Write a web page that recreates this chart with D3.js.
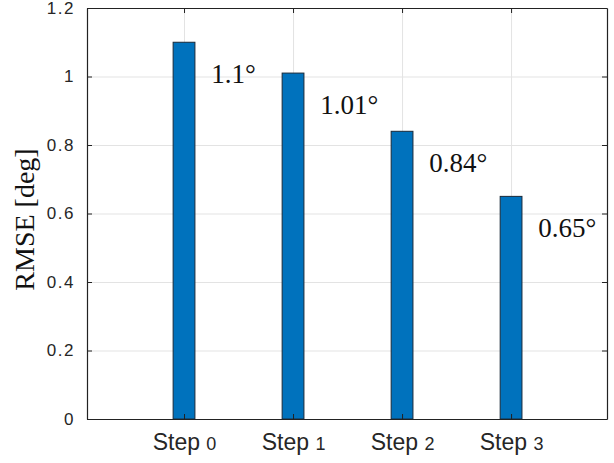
<!DOCTYPE html>
<html>
<head>
<meta charset="utf-8">
<script src="https://cdn.jsdelivr.net/npm/d3@7"></script>
<style>
  body { margin: 0; background: #fff; }
  #canvas { width: 614px; height: 463px; }
</style>
</head>
<body>
<div id="canvas" class="canvas"></div>
<script>
// data
var steps = ['Step', 'Step', 'Step', 'Step'];
var stepNums = ['0', '1', '2', '3'];
var rmse = [1.1, 1.01, 0.84, 0.65];
var rmseLabels = ['1.1°', '1.01°', '0.84°', '0.65°'];
var yTicks = [0, 0.2, 0.4, 0.6, 0.8, 1, 1.2];

// margin convention
var m = {t:8, r:7, b:44, l:87};
var outerWidth = 614, outerHeight = 463;
var w = outerWidth - m.l - m.r,
    h = outerHeight - m.t - m.b;

var svg = d3.select('.canvas')
    .append('svg')
    .attr('width', outerWidth)
    .attr('height', outerHeight);

var plot = svg.append('g')
    .attr('transform', 'translate(' + m.l + ',' + m.t + ')');

var idx = rmse.map(function(d, i){ return i; });

var scaleX = d3.scaleLinear()
    .domain([-0.89, 3.88])
    .range([0, w]);

var scaleY = d3.scaleLinear()
    .domain([0, 1.2])
    .range([h, 0]);

// grid
plot.append('g').attr('class', 'grid')
    .call(d3.axisLeft(scaleY).tickValues(yTicks).tickSize(-w).tickFormat(''))
    .call(function(g){
        g.select('.domain').remove();
        g.selectAll('line').attr('stroke', '#e3e3e3').attr('stroke-width', 1);
    });
plot.append('g').attr('class', 'grid')
    .attr('transform', 'translate(0,' + h + ')')
    .call(d3.axisBottom(scaleX).tickValues(idx).tickSize(-h).tickFormat(''))
    .call(function(g){
        g.select('.domain').remove();
        g.selectAll('line').attr('stroke', '#e3e3e3').attr('stroke-width', 1);
    });

// bars
var barW = scaleX(0.1) - scaleX(-0.1);
plot.selectAll('.bar')
    .data(rmse)
    .enter()
    .append('rect')
    .attr('class', 'bar')
    .attr('x', function(d, i){ return scaleX(i) - barW / 2; })
    .attr('y', function(d){ return scaleY(d); })
    .attr('width', barW)
    .attr('height', function(d){ return h - scaleY(d); })
    .attr('fill', '#0072BD')
    .attr('stroke', '#1a2a3a')
    .attr('stroke-width', 1);

// value annotations
plot.selectAll('.lbl')
    .data(rmse)
    .enter()
    .append('text')
    .attr('class', 'lbl')
    .attr('x', function(d, i){ return scaleX(i + 0.25); })
    .attr('y', function(d){ return scaleY(d - 0.12); })
    .attr('font-family', '"Liberation Serif", "DejaVu Serif", serif')
    .attr('font-size', 27)
    .attr('fill', '#111')
    .text(function(d, i){ return rmseLabels[i]; });

// axes with inward ticks, box on
function styleAxis(g){
    g.select('.domain').attr('stroke', '#222').attr('stroke-width', 1.2);
    g.selectAll('.tick line').attr('stroke', '#222');
}

var axisY = d3.axisLeft(scaleY)
    .tickValues(yTicks)
    .tickSizeInner(-5)
    .tickSizeOuter(0)
    .tickPadding(12)
    .tickFormat(function(d){ return d3.format('')(+d.toFixed(1)); });

plot.append('g').attr('class', 'axis axis-y')
    .call(axisY)
    .call(styleAxis)
    .selectAll('text')
    .attr('font-family', '"Liberation Sans", Arial, sans-serif')
    .attr('font-size', 17)
    .attr('letter-spacing', 1.5)
    .attr('fill', '#262626');

plot.append('g').attr('class', 'axis axis-y2')
    .attr('transform', 'translate(' + w + ',0)')
    .call(d3.axisRight(scaleY).tickValues(yTicks).tickSizeInner(-5).tickSizeOuter(0).tickFormat(''))
    .call(styleAxis);

var axisX = d3.axisBottom(scaleX)
    .tickValues(idx)
    .tickSizeInner(-5)
    .tickSizeOuter(0)
    .tickFormat('');

var gx = plot.append('g').attr('class', 'axis axis-x')
    .attr('transform', 'translate(0,' + h + ')')
    .call(axisX)
    .call(styleAxis);

gx.selectAll('.tick').append('text')
    .attr('y', 31)
    .attr('text-anchor', 'middle')
    .attr('font-family', '"Liberation Sans", Arial, sans-serif')
    .attr('font-size', 23)
    .attr('fill', '#262626')
    .each(function(d){
        var t = d3.select(this);
        t.append('tspan').text(steps[d] + ' ');
        t.append('tspan').attr('font-size', 18).text(stepNums[d]);
    });

plot.append('g').attr('class', 'axis axis-x2')
    .call(d3.axisTop(scaleX).tickValues(idx).tickSizeInner(-5).tickSizeOuter(0).tickFormat(''))
    .call(styleAxis);

// y label
svg.append('text')
    .attr('transform', 'translate(34,' + (m.t + h / 2 + 6) + ') rotate(-90)')
    .attr('text-anchor', 'middle')
    .attr('font-family', '"Liberation Serif", "DejaVu Serif", serif')
    .attr('font-size', 28)
    .attr('fill', '#111')
    .text('RMSE [deg]');
</script>
</body>
</html>
